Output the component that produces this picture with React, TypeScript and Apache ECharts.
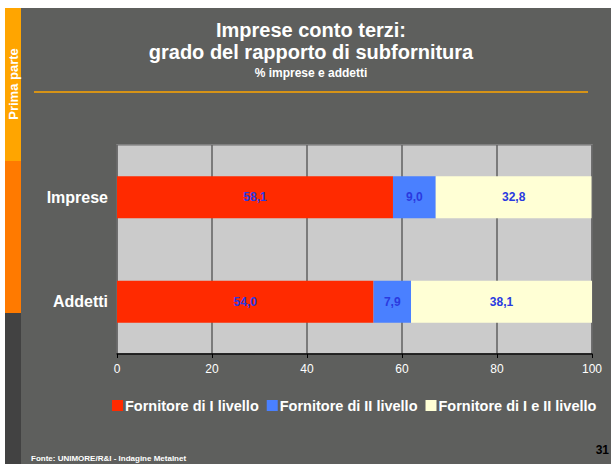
import React, { useEffect, useRef } from "react";
import * as echarts from "echarts";

const categories = ["Imprese", "Addetti"];
const seriesNames = ["Fornitore di I livello", "Fornitore di II livello", "Fornitore di I e II livello"];
const livelloI = [58.1, 54.0];
const livelloII = [9.0, 7.9];
const livelloIeII = [32.8, 38.1];
const seriesColors = ["#FF2A00", "#4A80FF", "#FFFFD5"];
const xTicks = [0, 20, 40, 60, 80, 100];

export default function App() {
  const ref = useRef<HTMLDivElement>(null);
  useEffect(() => {
    if (!ref.current) return;
    const chart = echarts.init(ref.current, null, { renderer: "svg" });
    const values = [livelloI, livelloII, livelloIeII];
    const font = "Liberation Sans, Arial, sans-serif";
    chart.setOption({
      animation: false,
      backgroundColor: "#ffffff",
      textStyle: { fontFamily: font },
      graphic: [
        { type: "rect", shape: { x: 5, y: 8, width: 606, height: 456 }, style: { fill: "#5E5F5D" }, z: -10 },
        { type: "rect", shape: { x: 5, y: 8, width: 16, height: 153 }, style: { fill: "#FFA500" }, z: -9 },
        { type: "rect", shape: { x: 5, y: 161, width: 16, height: 152 }, style: { fill: "#FF7A00" }, z: -9 },
        { type: "rect", shape: { x: 5, y: 313, width: 16, height: 151 }, style: { fill: "#424242" }, z: -9 },
        {
          type: "text", x: 13, y: 84, rotation: Math.PI / 2,
          style: { text: "Prima parte", fill: "#fff", font: `bold 13px ${font}`, textAlign: "center", textVerticalAlign: "middle" },
        },
        { type: "line", shape: { x1: 34, y1: 92, x2: 588, y2: 92 }, style: { stroke: "#FFA500", lineWidth: 1.5 } },
        {
          type: "text", x: 311, y: 30,
          style: { text: "Imprese conto terzi:", fill: "#fff", font: `bold 20px ${font}`, textAlign: "center", textVerticalAlign: "middle" },
        },
        {
          type: "text", x: 311, y: 52,
          style: { text: "grado del rapporto di subfornitura", fill: "#fff", font: `bold 20px ${font}`, textAlign: "center", textVerticalAlign: "middle" },
        },
        {
          type: "text", x: 311, y: 73,
          style: { text: "% imprese e addetti", fill: "#fff", font: `bold 12px ${font}`, textAlign: "center", textVerticalAlign: "middle" },
        },
        {
          type: "text", x: 31, y: 458,
          style: { text: "Fonte: UNIMORE/R&I - Indagine Metalnet", fill: "#fff", font: `bold 8px ${font}`, textAlign: "left", textVerticalAlign: "middle" },
        },
        {
          type: "text", x: 609, y: 450,
          style: { text: "31", fill: "#000", font: `bold 12px ${font}`, textAlign: "right", textVerticalAlign: "middle" },
        },
      ],
      grid: {
        left: 117, right: 19, top: 145, bottom: 110,
        show: true, backgroundColor: "#CBCBCB", borderColor: "#8a8a8a", borderWidth: 1.5,
      },
      legend: {
        left: 107, top: 393, width: 520, itemWidth: 11, itemHeight: 11, itemGap: 8,
        icon: "rect",
        textStyle: { color: "#fff", fontWeight: "bold", fontSize: 14.5, fontFamily: font, padding: [0, 0, 0, -3] },
        data: seriesNames,
      },
      xAxis: {
        type: "value", min: xTicks[0], max: xTicks[xTicks.length - 1], interval: 20,
        axisLine: { show: true, lineStyle: { color: "#000", width: 1.5 } },
        axisTick: { show: true, length: 4, lineStyle: { color: "#000" } },
        axisLabel: { color: "#fff", fontSize: 12, margin: 9, fontFamily: font },
        splitLine: { show: true, lineStyle: { color: "#606060", width: 1.5 } },
      },
      yAxis: {
        type: "category", data: categories, inverse: true,
        axisLine: { show: false }, axisTick: { show: false },
        axisLabel: { color: "#fff", fontWeight: "bold", fontSize: 16, margin: 9, fontFamily: font },
      },
      series: seriesNames.map((name, i) => ({
        name, type: "bar", stack: "tot", barWidth: 42,
        data: values[i],
        itemStyle: { color: seriesColors[i] },
        label: {
          show: true, position: "inside", color: "#2A3AE0", fontWeight: "bold", fontSize: 12, fontFamily: font,
          formatter: (p: any) => p.value.toFixed(1).replace(".", ","),
        },
      })),
    });
    return () => chart.dispose();
  }, []);
  return (
    <div style={{ position: "fixed", left: 0, top: 0, width: 611, height: 464 }}>
      <div ref={ref} style={{ width: 611, height: 464 }} />
    </div>
  );
}
